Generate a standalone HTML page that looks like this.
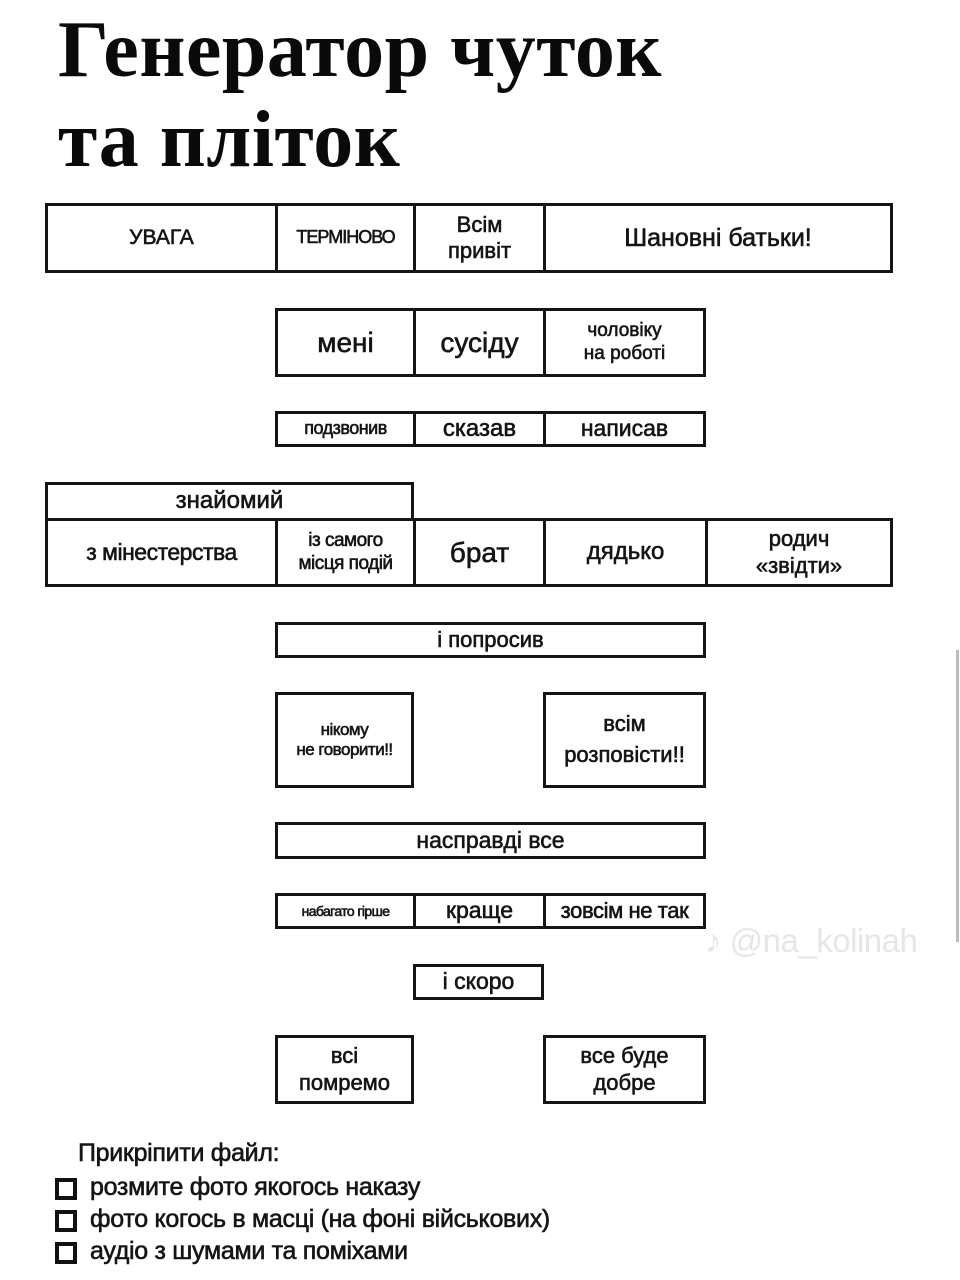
<!DOCTYPE html>
<html><head><meta charset="utf-8">
<style>
*{margin:0;padding:0;box-sizing:border-box}
body{width:960px;height:1280px;background:#fff;position:relative;overflow:hidden;font-family:"Liberation Sans","DejaVu Sans",sans-serif;color:#151515}
.t{position:absolute;left:58px;font-family:"Liberation Serif",serif;font-weight:bold;font-size:80px;line-height:1;letter-spacing:0.5px;color:#0a0a0a}
.c{position:absolute;border:3px solid #151515;display:flex;align-items:center;justify-content:center;text-align:center;line-height:1.2;letter-spacing:0;-webkit-text-stroke:0.6px #151515}
.l{position:absolute;left:90px;font-size:25px;letter-spacing:-0.3px;white-space:nowrap;-webkit-text-stroke:0.6px #151515}
.cb{position:absolute;left:55px;width:22px;height:22px;border:4px solid #111}
</style></head><body>
<div class="t" style="top:10px">Генератор чуток</div>
<div class="t" style="top:100px">та пліток</div>

<div class="c" style="left:45px;top:203px;width:233px;height:70px;font-size:21px">УВАГА</div>
<div class="c" style="left:275px;top:203px;width:141px;height:70px;font-size:18px;letter-spacing:-1px">ТЕРМІНОВО</div>
<div class="c" style="left:413px;top:203px;width:133px;height:70px;font-size:22px">Всім<br>привіт</div>
<div class="c" style="left:543px;top:203px;width:350px;height:70px;font-size:25px">Шановні батьки!</div>

<div class="c" style="left:275px;top:308px;width:141px;height:69px;font-size:28px">мені</div>
<div class="c" style="left:413px;top:308px;width:133px;height:69px;font-size:28px">сусіду</div>
<div class="c" style="left:543px;top:308px;width:163px;height:69px;font-size:19px">чоловіку<br>на роботі</div>

<div class="c" style="left:275px;top:411px;width:141px;height:36px;font-size:18px;letter-spacing:-0.5px">подзвонив</div>
<div class="c" style="left:413px;top:411px;width:133px;height:36px;font-size:24px">сказав</div>
<div class="c" style="left:543px;top:411px;width:163px;height:36px;font-size:23px">написав</div>

<div class="c" style="left:45px;top:482px;width:369px;height:39px;font-size:24px">знайомий</div>
<div class="c" style="left:45px;top:518px;width:233px;height:69px;font-size:23px;letter-spacing:-0.5px">з мінестерства</div>
<div class="c" style="left:275px;top:518px;width:141px;height:69px;font-size:19px;letter-spacing:-0.5px">із самого<br>місця подій</div>
<div class="c" style="left:413px;top:518px;width:133px;height:69px;font-size:28px">брат</div>
<div class="c" style="left:543px;top:518px;width:165px;height:69px;font-size:24px">дядько</div>
<div class="c" style="left:705px;top:518px;width:188px;height:69px;font-size:22px">родич<br>«звідти»</div>

<div class="c" style="left:275px;top:622px;width:431px;height:36px;font-size:22px">і попросив</div>

<div class="c" style="left:275px;top:692px;width:139px;height:96px;font-size:17px;letter-spacing:-0.5px">нікому<br>не говорити!!</div>
<div class="c" style="left:543px;top:692px;width:163px;height:96px;font-size:22px;line-height:1.4">всім<br>розповісти!!</div>

<div class="c" style="left:275px;top:822px;width:431px;height:37px;font-size:23px">насправді все</div>

<div class="c" style="left:275px;top:893px;width:141px;height:36px;font-size:14px;letter-spacing:-0.6px">набагато гірше</div>
<div class="c" style="left:413px;top:893px;width:133px;height:36px;font-size:23px">краще</div>
<div class="c" style="left:543px;top:893px;width:163px;height:36px;font-size:22px;letter-spacing:-0.4px">зовсім не так</div>

<div class="c" style="left:413px;top:964px;width:131px;height:36px;font-size:23px">і скоро</div>

<div class="c" style="left:275px;top:1035px;width:139px;height:69px;font-size:22px">всі<br>помремо</div>
<div class="c" style="left:543px;top:1035px;width:163px;height:69px;font-size:22px">все буде<br>добре</div>

<div style="position:absolute;left:705px;top:922px;font-size:33px;color:#e6e6e6;letter-spacing:-0.5px;white-space:nowrap">♪ @na_kolinah</div>
<div style="position:absolute;left:956px;top:650px;width:3px;height:292px;background:#bbb"></div>

<div class="l" style="left:78px;top:1139px">Прикріпити файл:</div>
<div class="cb" style="top:1178px"></div><div class="l" style="top:1173px">розмите фото якогось наказу</div>
<div class="cb" style="top:1210px"></div><div class="l" style="top:1205px">фото когось в масці (на фоні військових)</div>
<div class="cb" style="top:1242px"></div><div class="l" style="top:1237px">аудіо з шумами та поміхами</div>
</body></html>
